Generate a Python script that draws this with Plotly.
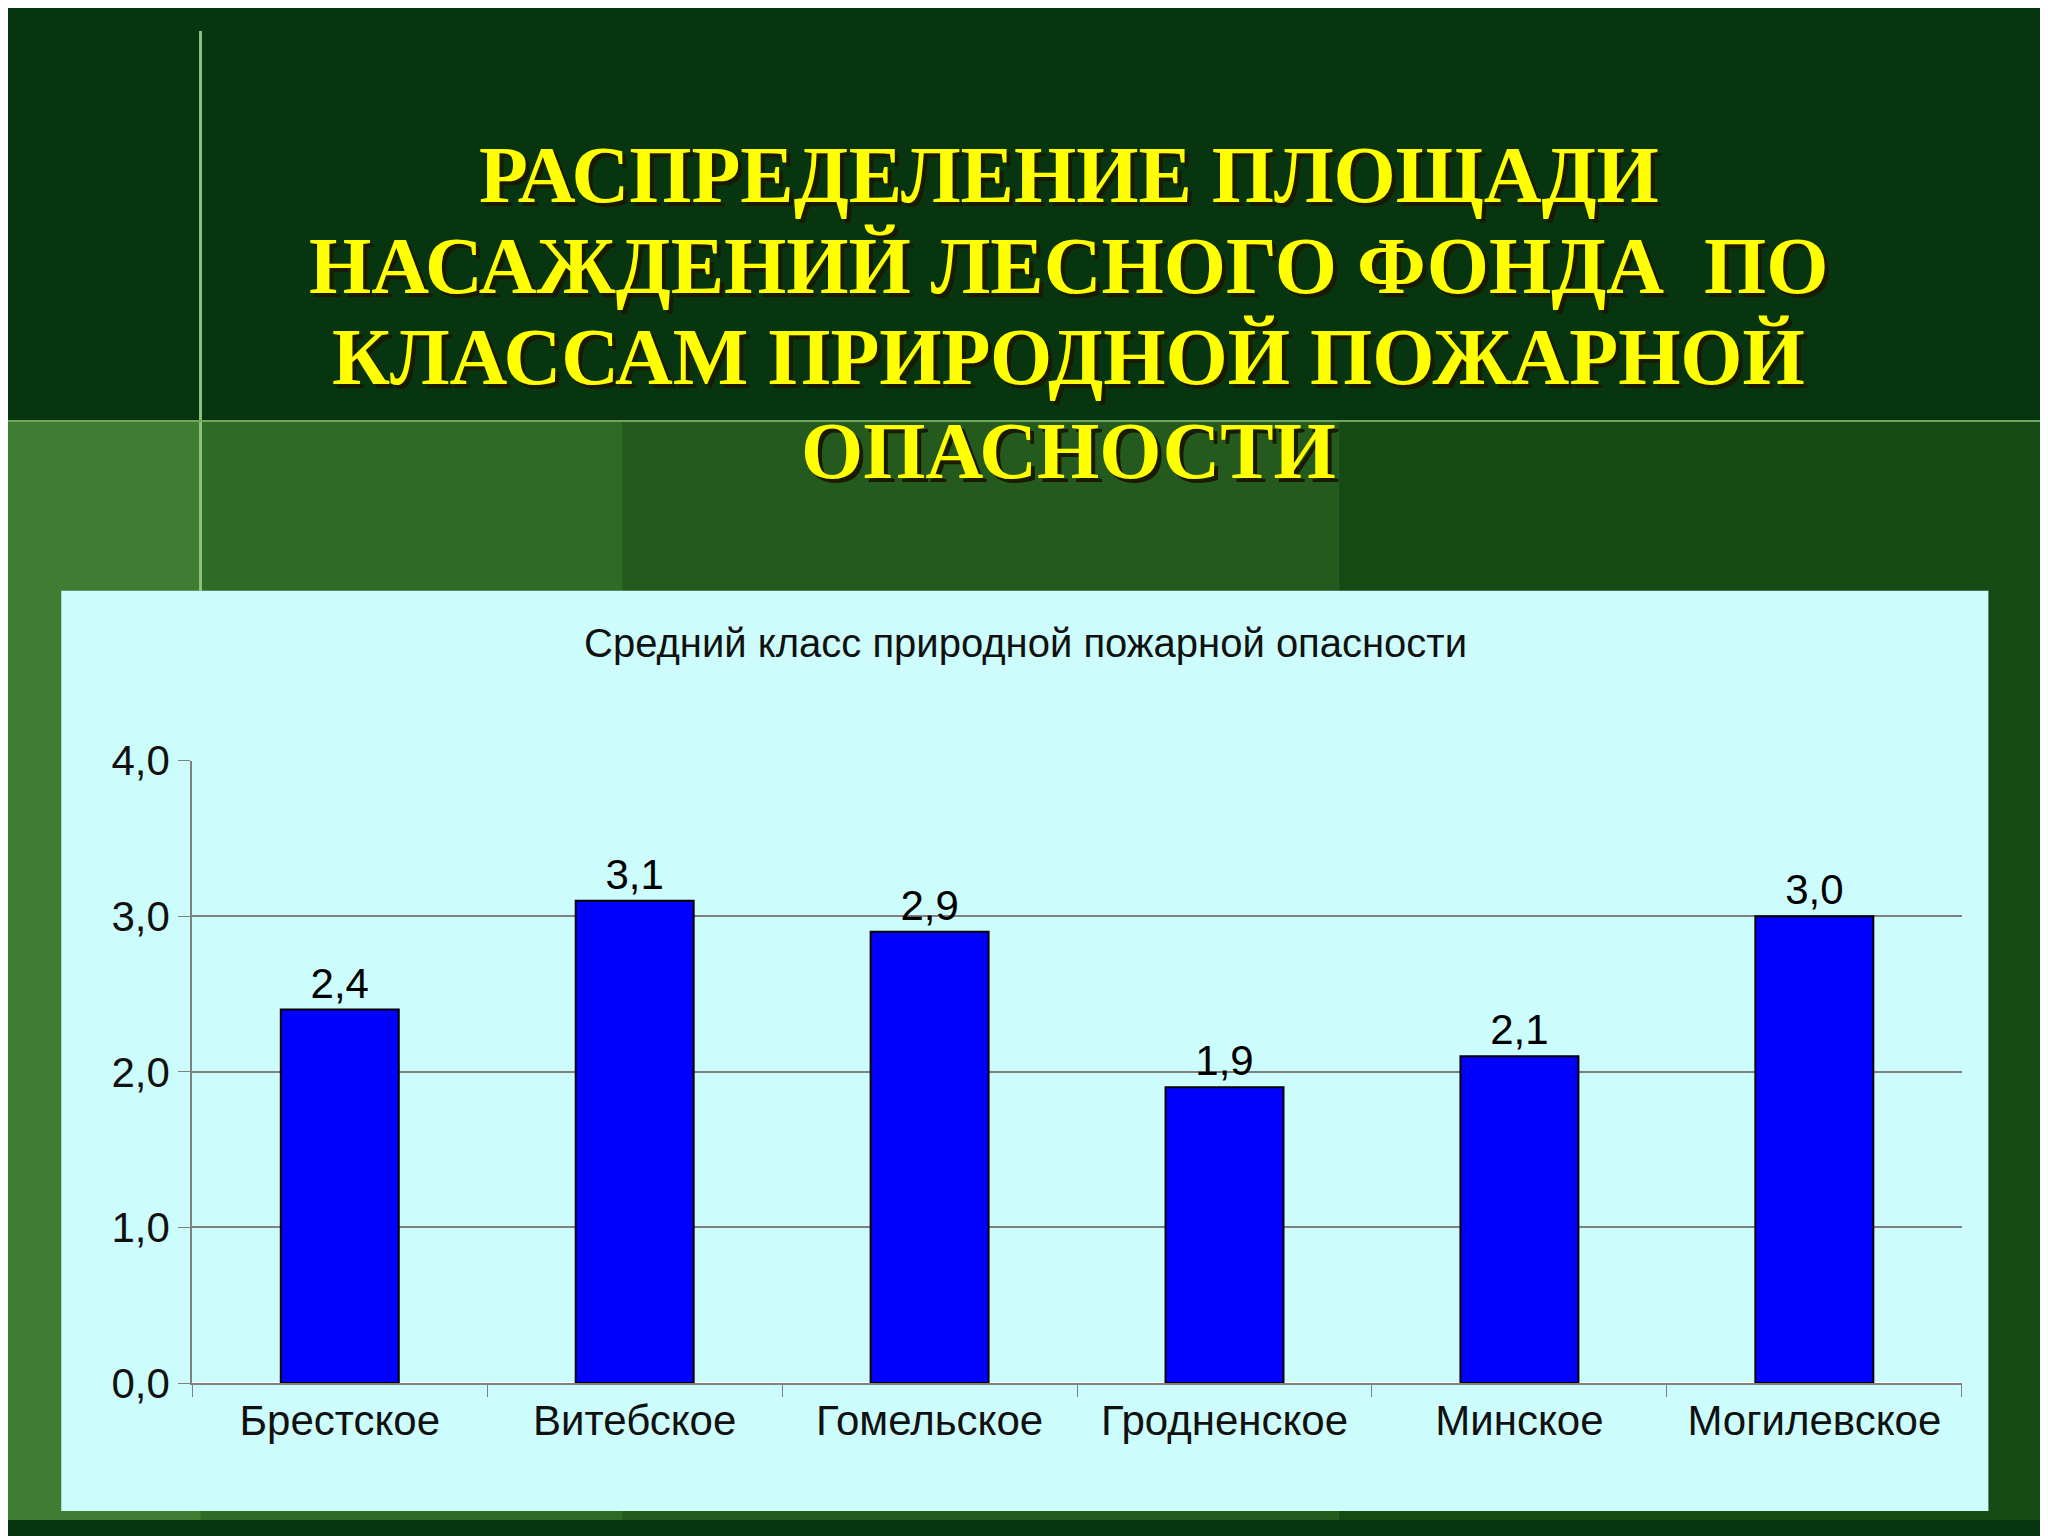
import plotly.graph_objects as go

regions = ["Брестское", "Витебское", "Гомельское", "Гродненское", "Минское", "Могилевское"]
fire_class = [2.4, 3.1, 2.9, 1.9, 2.1, 3.0]
title_lines = ["РАСПРЕДЕЛЕНИЕ ПЛОЩАДИ", "НАСАЖДЕНИЙ ЛЕСНОГО ФОНДА  ПО",
               "КЛАССАМ ПРИРОДНОЙ ПОЖАРНОЙ", "ОПАСНОСТИ"]
title_y = [0.903, 0.842, 0.781, 0.718]

fig = go.Figure(go.Bar(
    x=regions, y=fire_class,
    text=[f"{v:.1f}".replace(".", ",") for v in fire_class],
    textposition="outside", cliponaxis=False,
    textfont=dict(family="Liberation Sans", size=42, color="black"),
    marker=dict(color="#0000ff", line=dict(color="black", width=2)),
))

# background: dark green top, lighter greens below the horizontal line
shapes = [
    dict(type="rect", xref="paper", yref="paper", x0=0, x1=1, y0=0, y1=0.738,
         fillcolor="#2f6a26", line_width=0, layer="below"),
    dict(type="rect", xref="paper", yref="paper", x0=0.3, x1=1, y0=0, y1=0.738,
         fillcolor="#245a1d", line_width=0, layer="below"),
    dict(type="rect", xref="paper", yref="paper", x0=0.65, x1=1, y0=0, y1=0.738,
         fillcolor="#164a15", line_width=0, layer="below"),
    dict(type="rect", xref="paper", yref="paper", x0=0, x1=0.094, y0=0, y1=0.738,
         fillcolor="#3f7d32", line_width=0, layer="below"),
    dict(type="line", xref="paper", yref="paper", x0=0.094, x1=0.094, y0=0.62, y1=1,
         line=dict(color="#8fc07a", width=3), layer="below"),
    dict(type="line", xref="paper", yref="paper", x0=0, x1=1, y0=0.738, y1=0.738,
         line=dict(color="#6fa55c", width=2), layer="below"),
    dict(type="rect", xref="paper", yref="paper", x0=0.026, x1=0.967, y0=0.006, y1=0.624,
         fillcolor="#ccfcfc", line_width=0, layer="below"),
]

annotations = []
for line, y in zip(title_lines, title_y):
    for dx, dy, col in [(4, -4, "#1a1a00"), (0, 0, "#ffff00")]:
        annotations.append(dict(
            text=f"<b>{line}</b>", xref="paper", yref="paper", x=0.518, y=y, showarrow=False,
            xshift=dx, yshift=dy, font=dict(family="Liberation Serif", size=80, color=col),
            xanchor="center", yanchor="middle",
        ))
annotations.append(dict(text="Средний класс природной пожарной опасности", xref="paper", yref="paper",
                        x=0.497, y=0.589, showarrow=False, xanchor="center", yanchor="middle",
                        font=dict(family="Liberation Sans", size=40, color="#111111")))

fig.update_layout(
    width=2048, height=1536,
    margin=dict(l=0, r=0, t=0, b=0),
    paper_bgcolor="#06350f", plot_bgcolor="#ccfcfc",
    separators=",.",
    showlegend=False,
    bargap=0.6,
    shapes=shapes,
    annotations=annotations,
    xaxis=dict(domain=[0.090, 0.954], showline=True, linecolor="gray", linewidth=2,
               ticks="outside", tickson="boundaries", ticklen=12, tickcolor="gray",
               tickfont=dict(family="Liberation Sans", size=42, color="#111111")),
    yaxis=dict(domain=[0.092, 0.510], range=[0, 4], dtick=1, tickformat=".1f",
               showline=True, linecolor="gray", linewidth=2, gridcolor="gray", gridwidth=1.5,
               ticks="outside", ticklen=12, tickcolor="gray",
               tickfont=dict(family="Liberation Sans", size=42, color="#111111")),
)
fig.write_html("out.html")
